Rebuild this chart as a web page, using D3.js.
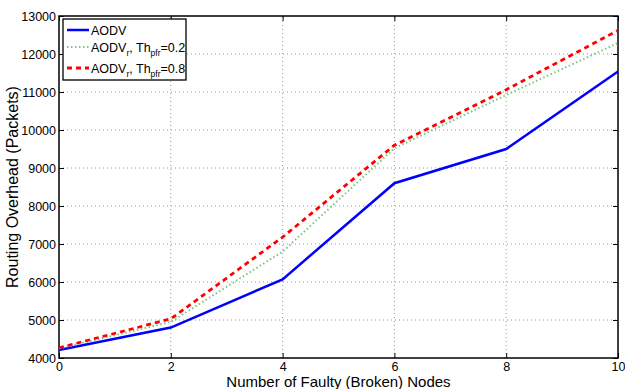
<!DOCTYPE html>
<html>
<head>
<meta charset="utf-8">
<script src="https://cdn.jsdelivr.net/npm/d3@7"></script>
<style>
  body { margin: 0; background: #fff; }
  svg text { font-family: "Liberation Sans", Arial, sans-serif; fill: #000; }
</style>
</head>
<body>
<div id="chart"></div>
<script>
const nodes = [0, 2, 4, 6, 8, 10];
const aodv = [4210, 4800, 6070, 8600, 9500, 11540];
const aodvR02 = [4250, 4950, 6800, 9520, 10920, 12290];
const aodvR08 = [4270, 5030, 7180, 9600, 11060, 12620];
const xTicks = [0, 2, 4, 6, 8, 10];
const yTicks = [4000, 5000, 6000, 7000, 8000, 9000, 10000, 11000, 12000, 13000];

const width = 625, height = 389;
const margin = { left: 59, right: 7, top: 16, bottom: 31 };
const iw = width - margin.left - margin.right;
const ih = height - margin.top - margin.bottom;

const svg = d3.select('#chart').append('svg')
  .attr('width', width).attr('height', height);

const x = d3.scaleLinear().domain([0, 10]).range([margin.left, margin.left + iw]);
const y = d3.scaleLinear().domain([4000, 13000]).range([margin.top + ih, margin.top]);

// grid
const grid = svg.append('g').attr('stroke', '#9a9a9a').attr('stroke-width', 1)
  .attr('stroke-dasharray', '1,3');
xTicks.slice(1, -1).forEach(t => {
  grid.append('line').attr('x1', x(t)).attr('x2', x(t))
    .attr('y1', y(4000)).attr('y2', y(13000));
});
yTicks.slice(1, -1).forEach(t => {
  grid.append('line').attr('y1', y(t)).attr('y2', y(t))
    .attr('x1', x(0)).attr('x2', x(10));
});

// axes (inward ticks, matlab style)
svg.append('g').attr('transform', `translate(0,${y(4000)})`)
  .call(d3.axisBottom(x).tickValues(xTicks).tickSize(-5).tickPadding(4))
  .call(g => g.select('.domain').remove());
svg.append('g').attr('transform', `translate(0,${y(13000)})`)
  .call(d3.axisTop(x).tickValues(xTicks).tickSize(-5).tickFormat(''))
  .call(g => g.select('.domain').remove());
svg.append('g').attr('transform', `translate(${x(0)},0)`)
  .call(d3.axisLeft(y).tickValues(yTicks).tickSize(-5).tickPadding(3).tickFormat(d3.format('d')))
  .call(g => g.select('.domain').remove());
svg.append('g').attr('transform', `translate(${x(10)},0)`)
  .call(d3.axisRight(y).tickValues(yTicks).tickSize(-5).tickFormat(''))
  .call(g => g.select('.domain').remove());
svg.selectAll('.tick text').attr('font-size', 12.5).attr('font-family', '"Liberation Sans", Arial, sans-serif');
svg.selectAll('.tick line').attr('stroke', '#000');

svg.append('rect').attr('x', x(0)).attr('y', y(13000))
  .attr('width', x(10) - x(0)).attr('height', y(4000) - y(13000))
  .attr('fill', 'none').attr('stroke', '#000').attr('stroke-width', 1.5);

// lines
const series = [
  { vals: aodv, color: '#0000ff', dash: null, w: 2.5 },
  { vals: aodvR02, color: '#7fc47f', dash: '1.5,2.5', w: 2 },
  { vals: aodvR08, color: '#ff0000', dash: '5,4', w: 2.8 }
];
const line = d3.line().x((d, i) => x(nodes[i])).y(d => y(d));
series.forEach(s => {
  svg.append('path').datum(s.vals).attr('d', line)
    .attr('fill', 'none').attr('stroke', s.color).attr('stroke-width', s.w)
    .attr('stroke-dasharray', s.dash);
});

// legend
const lg = svg.append('g');
lg.append('rect').attr('x', 63).attr('y', 19).attr('width', 123).attr('height', 61)
  .attr('fill', '#fff').attr('stroke', '#000').attr('stroke-width', 1.3);
const rows = [
  { y: 30, s: series[0], main: 'AODV' },
  { y: 47, s: series[1], main: 'AODV', th: '=0.2' },
  { y: 68, s: series[2], main: 'AODV', th: '=0.8' }
];
rows.forEach(r => {
  lg.append('line').attr('x1', 67).attr('x2', 89).attr('y1', r.y).attr('y2', r.y)
    .attr('stroke', r.s.color).attr('stroke-width', r.s.w)
    .attr('stroke-dasharray', r.s.dash);
  const t = lg.append('text').attr('x', 91).attr('y', r.y + 4.5).attr('font-size', 12.5);
  t.append('tspan').text(r.main);
  if (r.th) {
    t.append('tspan').attr('font-size', 8.5).attr('dy', 4).text('r');
    t.append('tspan').attr('dy', -4).text(', Th');
    t.append('tspan').attr('font-size', 8.5).attr('dy', 4).text('pfr');
    t.append('tspan').attr('dy', -4).text(r.th);
  }
});

// axis labels
svg.append('text').attr('x', x(5)).attr('y', 387).attr('text-anchor', 'middle')
  .attr('font-size', 15).text('Number of Faulty (Broken) Nodes');
svg.append('text').attr('transform', `translate(18,${(y(4000) + y(13000)) / 2}) rotate(-90)`)
  .attr('text-anchor', 'middle').attr('font-size', 16).text('Routing Overhead (Packets)');
</script>
</body>
</html>
